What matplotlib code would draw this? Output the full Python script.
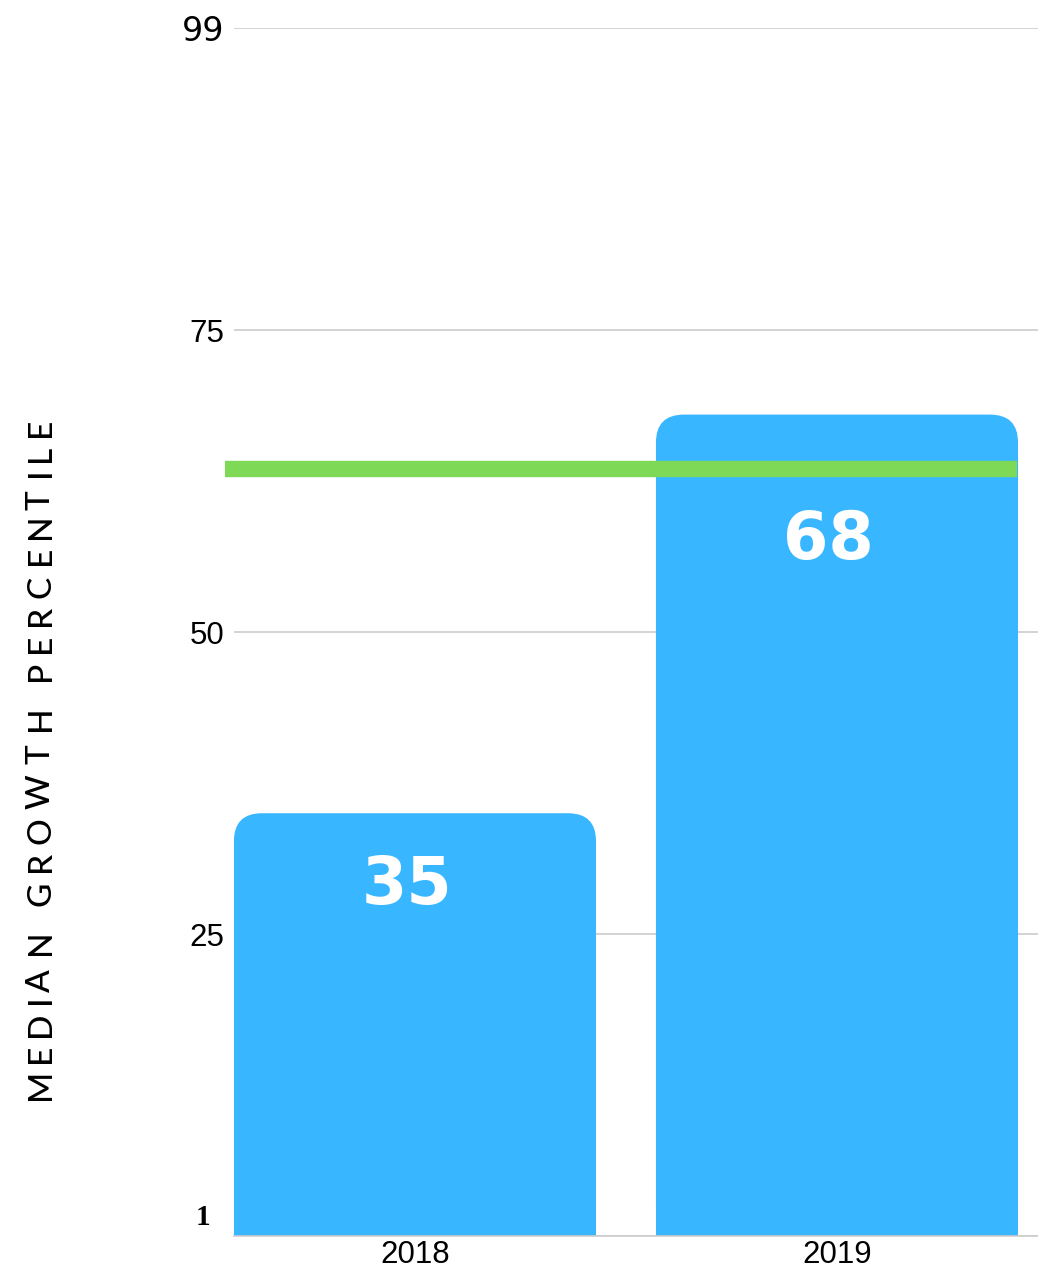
import matplotlib.pyplot as plt
from matplotlib.patches import FancyBboxPatch, Rectangle
from matplotlib.font_manager import FontProperties
from matplotlib.textpath import TextPath

years = ['2018', '2019']
growth = [35, 68]
target = 63.5
ytick_vals = [0, 25, 50, 75, 100]
ytick_labels = ['', '25', '50', '75', '99']
ylabel = 'MEDIAN GROWTH PERCENTILE'

blue = '#38b6ff'
green = '#7ed957'

W, H, DPI = 1038, 1274, 100
fig = plt.figure(figsize=(W / DPI, H / DPI), dpi=DPI)
ax = fig.add_axes([0.2254, 0.0298, 0.7746, 0.9482])

bars = ax.bar(range(len(years)), growth, width=0.858, color=blue, zorder=2)
ax.set_xlim(-0.4289, 1.4763)
ax.set_ylim(0, 100)

# rounded top corners: radius in x data units, aspect stretches it into y units
px_x = ax.get_position().width * W / 1.9052
px_y = ax.get_position().height * H / 100
r = 28 / px_x
aspect = px_x / px_y
for b in bars:
    x, w, h = b.get_x(), b.get_width(), b.get_height()
    b.set_visible(False)
    ax.add_patch(FancyBboxPatch((x, 0), w, h,
                                boxstyle=f'round,pad=0,rounding_size={r}',
                                mutation_aspect=aspect, fc=blue, ec='none', zorder=2))
    ax.add_patch(Rectangle((x, 0), w, h / 2, fc=blue, ec='none', zorder=2))

ax.axhline(target, xmin=-0.0112, xmax=0.974, color=green, lw=11.8,
           solid_capstyle='butt', clip_on=False, zorder=3)

for i, v in enumerate(growth):
    ax.text(i - 0.02, min(v, target) - 6, str(v), ha='center', va='center',
            color='white', fontsize=47, fontweight='bold',
            family='DejaVu Sans', zorder=4)

ax.set_yticks(ytick_vals)
ax.set_yticklabels(ytick_labels)
ax.tick_params(axis='y', length=0, pad=7, labelsize=22.5)
ax.tick_params(axis='x', length=0, pad=3, labelsize=22.5)
ax.set_xticks(range(len(years)))
ax.set_xticklabels(years, family='Liberation Sans')
for lab in ax.get_yticklabels():
    lab.set_family('Liberation Sans')
top_lab = ax.get_yticklabels()[-1]
top_lab.set_family('DejaVu Sans')
top_lab.set_fontsize(24)

# bottom label "1" sits a little above the baseline
ax.annotate('1', xy=(0, 0), xycoords=('axes fraction', 'data'),
            xytext=(-24, 19), textcoords='offset pixels', ha='right', va='center',
            family='Liberation Serif', fontweight='bold', fontsize=21)

ax.grid(axis='y', color='#cccccc', lw=1.2, zorder=0)
for s in ['left', 'right', 'top']:
    ax.spines[s].set_visible(False)
ax.spines['bottom'].set_color('#cccccc')
ax.spines['bottom'].set_linewidth(1.2)
ax.set_axisbelow(True)

# letter-spaced vertical axis title: even ink gaps between glyphs
prop = FontProperties(family='Lato', size=24, weight=500)
pt2px = DPI / 72
glyphs = []
for c in ylabel:
    if c == ' ':
        glyphs.append((c, 0.0, 8.0))
        continue
    ext = TextPath((0, 0), c, prop=prop).get_extents()
    glyphs.append((c, ext.x0 * pt2px, ext.width * pt2px))
span = 678
ink = sum(g[2] for g in glyphs)
gap = (span - ink) / (len(glyphs) - 1)
y0 = 1103
for c, left, width in glyphs:
    if c != ' ':
        fig.text(50 / W, 1 - (y0 - left) / H, c, rotation=90,
                 rotation_mode='anchor', ha='left', va='baseline',
                 fontproperties=prop, color='black')
    y0 -= width + gap

fig.savefig('out.png', dpi=DPI)
